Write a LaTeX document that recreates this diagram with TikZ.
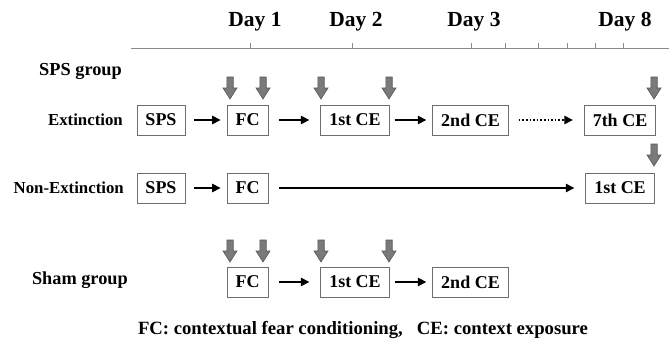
\documentclass[tikz,border=0pt]{standalone}
\usepackage{fontspec}
\setmainfont{Liberation Serif}
\usepackage{tikz}
\usetikzlibrary{arrows.meta}
\pgfdeclarelayer{edgelayer}
\pgfdeclarelayer{nodelayer}
\pgfsetlayers{edgelayer,nodelayer,main}
\definecolor{boxgray}{RGB}{110,110,110}
\definecolor{cuegray}{RGB}{122,122,122}
\tikzstyle{none}=[inner sep=0pt]
\tikzstyle{day}=[inner sep=0pt, font=\bfseries\fontsize{21.5}{22}\selectfont]
\tikzstyle{group}=[inner sep=0pt, anchor=east, font=\bfseries\fontsize{18.3}{19}\selectfont]
\tikzstyle{row}=[inner sep=0pt, anchor=east, font=\bfseries\fontsize{16.8}{17}\selectfont]
\tikzstyle{stage}=[rectangle, fill=white, draw=boxgray, line width=0.9pt, minimum height=30pt, inner xsep=8.5pt, inner ysep=0pt, font=\bfseries\fontsize{18}{18}\selectfont]
\tikzstyle{flow}=[draw=black, line width=1.6pt, -{Triangle[length=8.5pt, width=8.5pt]}]
\tikzstyle{axis}=[draw=boxgray!80, line width=1pt]
\tikzstyle{cue}=[fill=cuegray, draw=cuegray!70!black, line width=0.6pt]

\begin{document}
\begin{tikzpicture}[x=1pt, y=-1pt]
				\useasboundingbox (0, 0) rectangle (669, 356);
				\begin{pgfonlayer}{nodelayer}
					\node [style=day] (40) at (255, 22) {Day 1};
					\node [style=day] (41) at (356, 22) {Day 2};
					\node [style=day] (42) at (474, 22) {Day 3};
					\node [style=day] (43) at (625, 22) {Day 8};
					\node [style=group] (30) at (122, 71) {SPS group};
					\node [style=row] (31) at (123, 120) {Extinction};
					\node [style=row] (32) at (124, 188) {Non-Extinction};
					\node [style=group] (33) at (128, 280) {Sham group};
					\node [style=stage] (0) at (161, 120) {SPS};
					\node [style=stage] (1) at (247.5, 120) {FC};
					\node [style=stage] (2) at (355, 120) {1st CE};
					\node [style=stage] (3) at (470.5, 120) {2nd CE};
					\node [style=stage] (4) at (620, 120) {7th CE};
					\node [style=stage] (5) at (161, 188) {SPS};
					\node [style=stage] (6) at (247.5, 188) {FC};
					\node [style=stage] (7) at (620, 188) {1st CE};
					\node [style=stage] (8) at (247.5, 282) {FC};
					\node [style=stage] (9) at (355, 282) {1st CE};
					\node [style=stage] (10) at (470.5, 282) {2nd CE};
					\node [style=none, font=\bfseries\fontsize{18.7}{19}\selectfont] (50) at (363, 330) {FC: contextual fear conditioning,\ \ \ CE: context exposure};
				\end{pgfonlayer}
				\begin{pgfonlayer}{edgelayer}
					\draw [style=axis] (131, 48) -- (669, 48);
					\foreach \t in {250, 352, 471, 505, 538, 567, 595, 623}
						\draw [style=axis] (\t, 48) -- (\t, 43);
					\draw [style=flow, shorten <=9pt, shorten >=6pt] (0) to (1);
					\draw [style=flow, shorten <=11pt, shorten >=11pt] (1) to (2);
					\draw [style=flow, shorten <=5pt, shorten >=6pt] (2) to (3);
					\draw [style=flow, dotted, line width=1.2pt, shorten <=10pt, shorten >=11pt] (3) to (4);
					\draw [style=flow, shorten <=9pt, shorten >=6pt] (5) to (6);
					\draw [style=flow, line width=1.4pt, shorten <=11pt, shorten >=11pt] (6) to (7);
					\draw [style=flow, shorten <=11pt, shorten >=11pt] (8) to (9);
					\draw [style=flow, shorten <=5pt, shorten >=6pt] (9) to (10);
				\end{pgfonlayer}
				\foreach \x/\y in {230/77, 263/77, 321/77, 389/77, 654/77, 654/144, 230/240, 263/240, 321/240, 389/240}
					\draw [style=cue] (\x-3.2, \y) -- (\x+3.2, \y) -- (\x+3.2, \y+11) -- (\x+7, \y+11) -- (\x, \y+22) -- (\x-7, \y+11) -- (\x-3.2, \y+11) -- cycle;
			\end{tikzpicture}
\end{document}
